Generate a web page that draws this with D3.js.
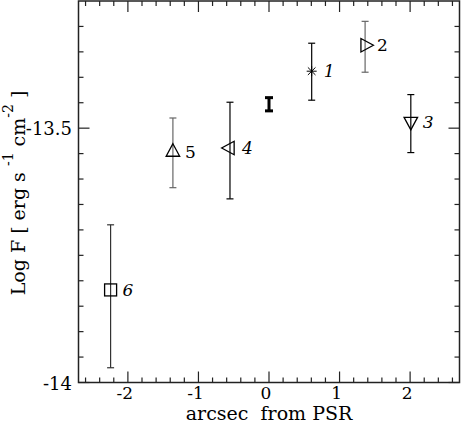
<!DOCTYPE html>
<html lang="en">
<head>
<meta charset="utf-8">
<script src="https://d3js.org/d3.v7.min.js"></script>
<style>
  body { margin: 0; background: #fff; }
</style>
<title>Log F vs offset</title>
</head>
<body>
<script>
// data
var ids      = ["1", "2", "3", "4", "5", "6", ""];
var offsets  = [0.605, 1.362, 2.01, -0.553, -1.362, -2.245, 0];
var logFlux  = [-13.388, -13.337, -13.487, -13.539, -13.547, -13.818, -13.453];
var fluxHigh = [-13.333, -13.290, -13.434, -13.449, -13.480, -13.690, -13.440];
var fluxLow  = [-13.445, -13.390, -13.548, -13.639, -13.617, -13.971, -13.466];
var xTicks = [-2, -1, 0, 1, 2];
var yTicks = [-14, -13.5];

var width = 461, height = 425;
var margin = {left: 78.5, right: 1.5, top: 1, bottom: 42.5};
var serif = "DejaVu Serif";

// marker style per point id
var symbolOf = {
  "1": "asterisk", "2": "triRight", "3": "triDown",
  "4": "triLeft", "5": "triUp", "6": "square", "": "none"
};
var barColor = {"1": "#000", "2": "#666", "3": "#000", "4": "#000", "5": "#666", "6": "#333", "": "#000"};
var italicLabel = {"1": true, "2": false, "3": true, "4": true, "5": false, "6": true};

var svg = d3.select("body").append("svg")
  .attr("width", width)
  .attr("height", height)
  .attr("font-family", serif);

var x = d3.scaleLinear().domain([-2.7, 2.7]).range([margin.left, width - margin.right]);
var y = d3.scaleLinear().domain([-14, -13.25]).range([height - margin.bottom, margin.top]);

var x0 = x.range()[0], x1 = x.range()[1], y0 = y.range()[0], y1 = y.range()[1];

// ticks, pointing inward on all four sides
var xMinor = d3.range(-2.6, 2.7, 0.2).filter(function(v) { return Math.abs(v - Math.round(v)) > 0.01; });
var yMinor = d3.range(-13.95, -13.25, 0.05).filter(function(v) { return Math.abs(v + 13.5) > 0.01; });

var tickG = svg.append("g").attr("stroke", "#222").attr("stroke-width", 1.2);

function xTickLines(vals, len) {
  vals.forEach(function(v) {
    tickG.append("line").attr("x1", x(v)).attr("x2", x(v)).attr("y1", y0).attr("y2", y0 - len);
    tickG.append("line").attr("x1", x(v)).attr("x2", x(v)).attr("y1", y1).attr("y2", y1 + len);
  });
}
function yTickLines(vals, len) {
  vals.forEach(function(v) {
    tickG.append("line").attr("y1", y(v)).attr("y2", y(v)).attr("x1", x0).attr("x2", x0 + len);
    tickG.append("line").attr("y1", y(v)).attr("y2", y(v)).attr("x1", x1).attr("x2", x1 - len);
  });
}
xTickLines(xTicks, 11);
xTickLines(xMinor, 5);
yTickLines(yTicks, 11);
yTickLines(yMinor, 5);

// frame
svg.append("rect")
  .attr("x", x0).attr("y", y1)
  .attr("width", x1 - x0).attr("height", y0 - y1)
  .attr("fill", "none").attr("stroke", "#222").attr("stroke-width", 1.5);

// tick labels
svg.selectAll(".xlab").data(xTicks).enter().append("text")
  .attr("x", function(d) { return x(d) - 3; })
  .attr("y", 399)
  .attr("text-anchor", "middle")
  .attr("font-size", 17)
  .text(function(d) { return String(d); });

svg.selectAll(".ylab").data(yTicks).enter().append("text")
  .attr("x", 72)
  .attr("y", function(d) { return y(d) + 7; })
  .attr("text-anchor", "end")
  .attr("font-size", 18)
  .text(function(d) { return String(d); });

// axis titles
svg.append("text")
  .attr("x", 269).attr("y", 420)
  .attr("text-anchor", "middle")
  .attr("font-size", 19)
  .style("white-space", "pre")
  .text("arcsec  from PSR");

var yt = svg.append("text")
  .attr("transform", "translate(25,193) rotate(-90)")
  .attr("text-anchor", "middle")
  .attr("font-size", 19)
  .style("white-space", "pre");
yt.append("tspan").text("Log F [ erg s ");
yt.append("tspan").attr("dy", -12).attr("font-size", 14).text("-1");
yt.append("tspan").attr("dy", 12).text(" cm");
yt.append("tspan").attr("dy", -12).attr("font-size", 14).text("-2");
yt.append("tspan").attr("dy", 12).text(" ]");

// points
var pts = ids.map(function(id, i) {
  return {id: id, x: offsets[i], v: logFlux[i], hi: fluxHigh[i], lo: fluxLow[i]};
});

var g = svg.append("g");
pts.forEach(function(d) {
  var px = x(d.x), py = y(d.v);
  var bold = d.id === "";
  var cap = bold ? 4 : 3.5;
  var eg = g.append("g")
    .attr("stroke", barColor[d.id])
    .attr("stroke-width", bold ? 3 : 1.2)
    .attr("fill", "none");
  eg.append("line").attr("x1", px).attr("x2", px).attr("y1", y(d.hi)).attr("y2", y(d.lo));
  eg.append("line").attr("x1", px - cap).attr("x2", px + cap).attr("y1", y(d.hi)).attr("y2", y(d.hi));
  eg.append("line").attr("x1", px - cap).attr("x2", px + cap).attr("y1", y(d.lo)).attr("y2", y(d.lo));

  var s = symbolOf[d.id];
  var mg = g.append("g").attr("transform", "translate(" + px + "," + py + ")")
    .attr("fill", "none").attr("stroke", "#000").attr("stroke-width", 1.3);
  var h = 12.5, w = 13.5; // triangle height and base
  if (s === "triUp") {
    mg.append("path").attr("d", "M0," + (-2 * h / 3) + "L" + (w / 2) + "," + (h / 3) + "L" + (-w / 2) + "," + (h / 3) + "Z");
  } else if (s === "triDown") {
    mg.append("path").attr("d", "M0," + (2 * h / 3) + "L" + (w / 2) + "," + (-h / 3) + "L" + (-w / 2) + "," + (-h / 3) + "Z");
  } else if (s === "triRight") {
    mg.append("path").attr("d", "M" + (2 * h / 3) + ",0L" + (-h / 3) + "," + (w / 2) + "L" + (-h / 3) + "," + (-w / 2) + "Z");
  } else if (s === "triLeft") {
    mg.append("path").attr("d", "M" + (-2 * h / 3) + ",0L" + (h / 3) + "," + (w / 2) + "L" + (h / 3) + "," + (-w / 2) + "Z");
  } else if (s === "square") {
    mg.append("rect").attr("x", -6).attr("y", -6).attr("width", 12).attr("height", 12);
  } else if (s === "asterisk") {
    mg.attr("stroke-width", 1);
    mg.append("path").attr("d", "M-5,0H5M0,-5V5M-3.8,-3.8L3.8,3.8M-3.8,3.8L3.8,-3.8");
  }

  if (d.id) {
    g.append("text")
      .attr("x", px + 12)
      .attr("y", py + 6)
      .attr("font-size", 17)
      .attr("font-style", italicLabel[d.id] ? "italic" : "normal")
      .text(d.id);
  }
});
</script>
</body>
</html>
